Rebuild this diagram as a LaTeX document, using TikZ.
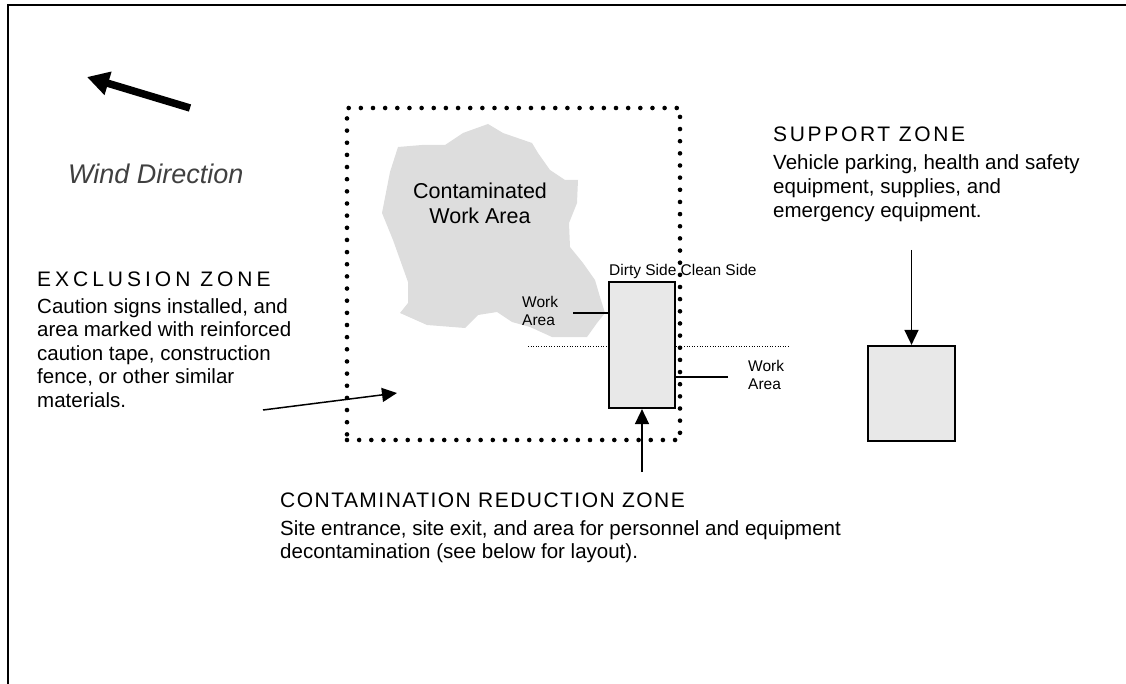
\documentclass[tikz,border=0pt]{standalone}
\usepackage{fontspec}
\setmainfont{Liberation Sans}
\newfontfamily\headEZ[LetterSpace=19]{Liberation Sans}
\newfontfamily\headSZ[LetterSpace=12.7]{Liberation Sans}
\newfontfamily\headCRZ[LetterSpace=7]{Liberation Sans}
\usetikzlibrary{arrows.meta}
\definecolor{blobgray}{HTML}{DDDDDD}
\definecolor{boxgray}{HTML}{E8E8E8}
\tikzset{
  zonebox/.style={draw=black, line width=2.2pt, fill=boxgray, inner sep=0pt},
  fence/.style={draw=black, line width=4.6pt, line cap=round, dash pattern=on 0pt off 12.15pt, inner sep=0pt},
  pointer/.style={draw=black, line width=1.5pt, -{Triangle[length=15pt,width=14pt]}},
  leader/.style={draw=black, line width=1.5pt},
  heading/.style={anchor=base west, inner sep=0pt, font=\fontsize{21}{24}\selectfont},
  % multi-line nodes: the base anchor sits on the last line's baseline
  bodytext/.style={anchor=base west, inner sep=0pt, align=left, font=\fontsize{20.5}{23.6}\selectfont},
  smalltext/.style={anchor=base west, inner sep=0pt, align=left, font=\fontsize{15.5}{18}\selectfont},
}
\begin{document}
\begin{tikzpicture}[x=1pt, y=-1pt]
\useasboundingbox (0,0) rectangle (1126,684);

% page frame (top and left edges only)
\draw[line width=2pt] (8,684) -- (8,5) -- (1126,5);

% wind arrow
\coordinate (windtail) at (190,108);
\coordinate (windtip) at (87,77);
\draw[line width=7.5pt, -{Triangle[length=22pt,width=23pt]}] (windtail) -- (windtip);
\node[anchor=base west, inner sep=0pt, font=\fontsize{27}{30}\selectfont\itshape, text=black!75] (wind) at (68,184) {Wind Direction};

% contaminated work area
\fill[blobgray] (488,124) -- (503,133) -- (532,143) -- (538,153) -- (550,170) -- (565,180)
  -- (578,180) -- (577,203) -- (569,223) -- (570,247) -- (583,263) -- (595,280)
  -- (600,297) -- (605,313) -- (597,323) -- (587,337) -- (552,337) -- (530,327)
  -- (512,322) -- (497,312) -- (478,315) -- (465,328) -- (427,325) -- (400,313)
  -- (408,303) -- (408,282) -- (393,240) -- (382,213) -- (390,172) -- (398,147)
  -- (422,145) -- (445,145) -- (463,133) -- cycle;
\node[align=center, inner sep=0pt, font=\fontsize{21.5}{25}\selectfont] (cwa) at (480,203) {Contaminated\\Work Area};

% exclusion zone fence
\node[fence, minimum width=333pt, minimum height=332pt] (ez) at (513.5,274) {};

% boundary between dirty and clean work areas
\coordinate (divL) at (528,346);
\coordinate (divR) at (790,346);
\draw[line width=0.9pt, dash pattern=on 1pt off 1.6pt] (divL) -- (divR);

% decontamination corridor
\node[zonebox, minimum width=66pt, minimum height=126pt] (crz) at (642,345) {};
\node[smalltext] (sides) at (609,276) {Dirty Side Clean Side};
\node[smalltext] (waL) at (522,326) {Work\\Area};
\node[smalltext] (waR) at (748,389) {Work\\Area};
\coordinate (waLend) at (573,313);
\coordinate (waRend) at (728,377);
\draw[leader] (waLend) -- (waLend -| crz.west);
\draw[leader] (waRend) -- (waRend -| crz.east);

% support zone
\node[zonebox, minimum width=87pt, minimum height=95pt] (sup) at (911.5,393.5) {};
\node[heading] (szhead) at (773,142) {\headSZ SUPPORT ZONE};
\node[bodytext] (szbody) at (773,217.2) {Vehicle parking, health and safety\\equipment, supplies, and\\emergency equipment.};
\coordinate (szarrow) at (911.5,250);
\draw[pointer] (szarrow) -- (sup.north);

% exclusion zone
\node[heading] (ezhead) at (37,287) {\headEZ EXCLUSION ZONE};
\node[bodytext] (ezbody) at (37,407.4) {Caution signs installed, and\\area marked with reinforced\\caution tape, construction\\fence, or other similar\\materials.};
\coordinate (ezarrow) at (263,410);
\coordinate (eztip) at (397,393);
\draw[pointer] (ezarrow) -- (eztip);

% contamination reduction zone
\node[heading] (crzhead) at (280,507) {\headCRZ CONTAMINATION REDUCTION ZONE};
\node[bodytext] (crzbody) at (280,558.6) {Site entrance, site exit, and area for personnel and equipment\\decontamination (see below for layout).};
\coordinate (crzarrow) at (642,472);
\draw[pointer] (crzarrow) -- (crz.south);
\end{tikzpicture}
\end{document}
